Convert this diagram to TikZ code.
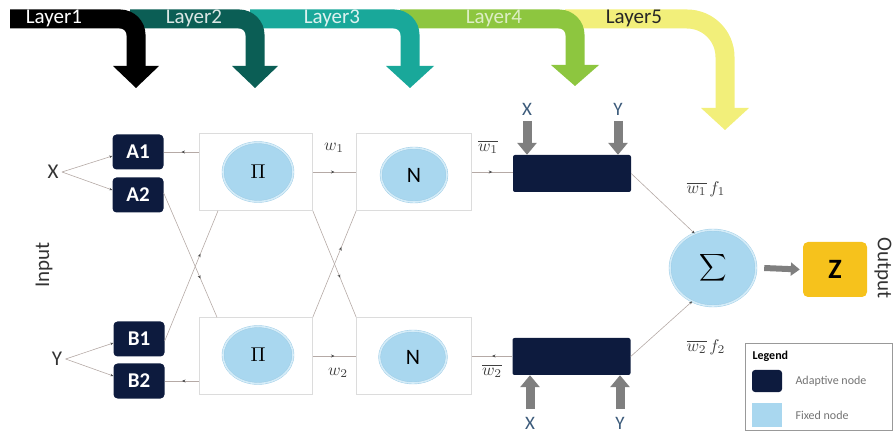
\documentclass[tikz,border=0pt]{standalone}
\usepackage{fontspec}
\setmainfont{Carlito}
\usetikzlibrary{arrows.meta,shapes.geometric,decorations.markings}
\definecolor{navy}{HTML}{0D1B3E}
\definecolor{fixfill}{HTML}{A9D7EF}
\definecolor{fixring}{HTML}{D4ECF8}
\definecolor{fixedge}{HTML}{9CCBE5}
\definecolor{zyellow}{HTML}{F6C21C}
\definecolor{garrow}{HTML}{7F7F7F}
\definecolor{connc}{HTML}{B5AAA6}
\definecolor{boxc}{HTML}{DCDCDC}
\definecolor{lone}{HTML}{000000}
\definecolor{ltwo}{HTML}{0B5E55}
\definecolor{lthree}{HTML}{19A89A}
\definecolor{lfour}{HTML}{8DC63F}
\definecolor{lfive}{HTML}{F2EF7A}
\definecolor{xyblue}{HTML}{3B5A7A}
\newcommand{\wl}[1]{\scalebox{1.7}{$#1$}}
\tikzset{
  band/.style={line width=19pt, rounded corners=16pt},
  layertxt/.style={font=\fontsize{21}{22}\selectfont},
  adaptive/.style={fill=navy, rounded corners=4pt, text=white, font=\bfseries\fontsize{21}{22}\selectfont, minimum width=51pt, minimum height=35pt, inner sep=0pt},
  fbox/.style={draw=boxc, line width=0.6pt, minimum width=113pt, minimum height=77pt, inner sep=0pt},
  fixed/.style={ellipse, fill=fixfill, draw=fixedge, double=fixring, double distance=1.6pt, line width=0.4pt, inner sep=0pt},
  darkbox/.style={fill=navy, rounded corners=2pt, minimum width=118pt, minimum height=37pt, inner sep=0pt},
  conn/.style={draw=connc, line width=0.6pt},
  midarr/.style={postaction={decorate}, decoration={markings, mark=at position #1 with {\arrow[black!70]{Stealth[length=3.5pt,width=3pt]}}}},
  midarr/.default=0.5,
  midarrl/.style={postaction={decorate}, decoration={markings, mark=at position 0.5 with {\arrowreversed[black!70]{Stealth[length=3.5pt,width=3pt]}}}},
  endarr/.style={-{Stealth[length=3pt,width=2.6pt,black!70]}},
  bigarr/.style={draw=garrow, line width=9pt, -{Triangle[width=19pt,length=12pt]}},
  lbl/.style={font=\fontsize{21}{22}\selectfont, text=black!80},
  xylbl/.style={font=\fontsize{19}{20}\selectfont, text=xyblue},
  wlab/.style={text=black!75, inner sep=1pt},
  glyph/.style={font=\fontsize{22}{24}\selectfont},
}
\begin{document}
\begin{tikzpicture}[x=1pt,y=-1pt]
\useasboundingbox (0,0) rectangle (894,435);
% ---- layer arrows ----
\draw[band, lfive, rounded corners=38pt] (565,19) -| (725,109);
\fill[lfive] (701,108) -- (749,108) -- (725,130) -- cycle;
\draw[band, lfour] (400,19) -| (575,66);
\fill[lfour] (551,65) -- (599,65) -- (575,86) -- cycle;
\draw[band, lthree] (250,19) -| (410,67);
\fill[lthree] (386,66) -- (434,66) -- (410,88) -- cycle;
\draw[band, ltwo] (130,19) -| (255,67);
\fill[ltwo] (232,66) -- (278,66) -- (255,88) -- cycle;
\draw[band, lone] (10,19) -| (136,67);
\fill[lone] (113,66) -- (159,66) -- (136,88) -- cycle;
\node[layertxt, text=white] (L1) at (54,18) {Layer1};
\node[layertxt, text=white!85!ltwo] (L2) at (194,18) {Layer2};
\node[layertxt, text=white!85!lthree] (L3) at (332,18) {Layer3};
\node[layertxt, text=white!70!lfour] (L4) at (494,18) {Layer4};
\node[layertxt, text=black!85] (L5) at (634,18) {Layer5};
% ---- inputs ----
\node[lbl] (X) at (53,172) {X};
\node[lbl] (Y) at (57,359) {Y};
\node[lbl, rotate=90] (inp) at (44,265) {Input};
\node[adaptive] (A1) at (138,152) {A1};
\node[adaptive] (A2) at (138,195) {A2};
\node[adaptive] (B1) at (139,339) {B1};
\node[adaptive] (B2) at (139,381) {B2};
% ---- layer 2 and 3 ----
\node[fbox] (P1box) at (256,172) {};
\node[fbox] (P2box) at (256,356) {};
\node[fbox, minimum width=115pt] (N1box) at (414,172) {};
\node[fbox, minimum width=115pt] (N2box) at (414,356) {};
\node[fixed, minimum width=70pt, minimum height=59pt] (P1) at (258,172) {\scalebox{2}{$\Pi$}};
\node[fixed, minimum width=70pt, minimum height=57pt] (P2) at (258,355) {\scalebox{2}{$\Pi$}};
\node[fixed, glyph, minimum width=66pt, minimum height=54pt] (N1) at (414,175) {N};
\node[fixed, glyph, minimum width=67pt, minimum height=52pt] (N2) at (413,357) {N};
% ---- layer 4 ----
\node[darkbox] (D1) at (572,173.5) {};
\node[darkbox] (D2) at (571.5,356.5) {};
\node[xylbl] (xt) at (527,109) {X};
\node[xylbl] (yt) at (618,109) {Y};
\node[xylbl] (xb) at (530,423) {X};
\node[xylbl] (yb) at (620,423) {Y};
\coordinate (xts) at (527,121);
\coordinate (yts) at (618,121);
\coordinate (xbs) at (530,409);
\coordinate (ybs) at (620,409);
\draw[bigarr] (xts) -- (xts |- D1.north);
\draw[bigarr] (yts) -- (yts |- D1.north);
\draw[bigarr] (xbs) -- (xbs |- D2.south);
\draw[bigarr] (ybs) -- (ybs |- D2.south);
% ---- layer 5 ----
\node[fixed, minimum width=86pt, minimum height=76pt] (S) at (713,268) {\scalebox{1.9}{$\displaystyle\sum$}};
\node[fill=zyellow, rounded corners=5pt, minimum width=64pt, minimum height=55pt, font=\bfseries\fontsize{28}{30}\selectfont] (Z) at (835,269.5) {Z};
\node[lbl, rotate=-90] (outp) at (883,268) {Output};
\draw[draw=garrow, line width=6pt, -{Triangle[width=13pt,length=9pt]}] ([xshift=8pt]S.east) -- ([xshift=-3pt]Z.west);
% ---- connectors ----
\draw[conn, endarr] (X.east) -- ([yshift=-4pt]A1.west);
\draw[conn, endarr] (X.east) -- ([yshift=5pt]A2.west);
\draw[conn, endarr] (Y.east) -- ([yshift=-4pt]B1.west);
\draw[conn, endarr] (Y.east) -- ([yshift=5pt]B2.west);
\draw[conn, midarrl] (A1.east) -- (A1.east -| P1box.west);
\draw[conn, midarrl] (B2.east) -- (B2.east -| P2box.west);
\draw[conn, midarr=0.69] ([yshift=2pt]A2.east) -- ([xshift=-39pt]P2box.north);
\draw[conn, midarr=0.67] ([yshift=-2pt]B1.east) -- ([xshift=-38pt]P1box.south);
\draw[conn, midarr] (P1box.east) -- (N1box.west);
\draw[conn, midarr] (P2box.east) -- (N2box.west);
\draw[conn, midarr=0.63] (P1box.south east) -- (N2box.north west);
\draw[conn, midarr=0.66] (P2box.north east) -- (N1box.south west);
\draw[conn, midarr] (N1box.east) -- (N1box.east -| D1.west);
\draw[conn, midarrl] (N2box.east) -- (N2box.east -| D2.west);
\draw[conn, endarr] (D1.east) -- (S.118);
\draw[conn, endarr] (D2.east) -- (S.238);
\node[wlab] (w1) at (334,148) {\wl{w_1}};
\node[wlab] (w2) at (338,373) {\wl{w_2}};
\node[wlab] (w1b) at (488,147) {\wl{\overline{w_1}}};
\node[wlab] (w2b) at (492,371) {\wl{\overline{w_2}}};
\node[wlab] (w1f) at (706,189) {\wl{\overline{w_1}\,f_1}};
\node[wlab] (w2f) at (706,347) {\wl{\overline{w_2}\,f_2}};
% ---- legend ----
\node[draw=black!40, line width=0.5pt, minimum width=147pt, minimum height=87pt, inner sep=0pt] (leg) at (818.5,386.5) {};
\node[anchor=west, font=\bfseries\fontsize{12}{13}\selectfont] (legt) at (749,356) {Legend};
\node[fill=navy, rounded corners=3pt, minimum width=30pt, minimum height=22pt, inner sep=0pt] (lgA) at (767,381) {};
\node[fill=fixfill, minimum width=30pt, minimum height=24pt, inner sep=0pt] (lgF) at (767,415) {};
\node[anchor=west, font=\fontsize{12}{13}\selectfont, text=black!55] (lgAt) at (792,381) {Adaptive node};
\node[anchor=west, font=\fontsize{12}{13}\selectfont, text=black!55] (lgFt) at (792,415) {Fixed node};
\end{tikzpicture}
\end{document}
